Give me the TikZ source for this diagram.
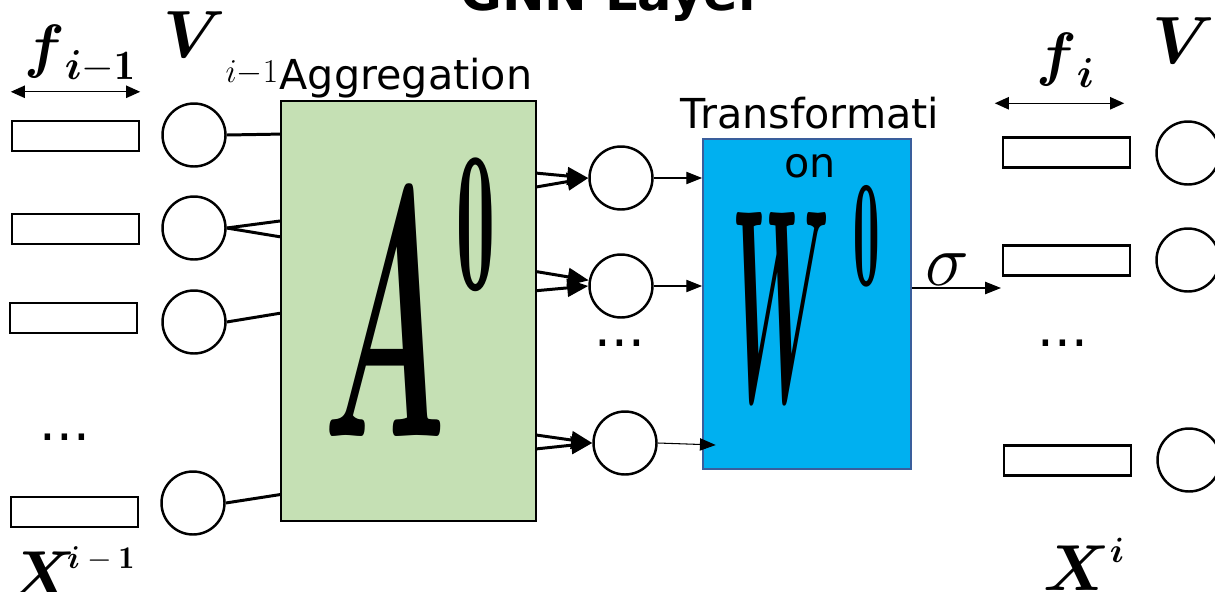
\RequirePackage{fix-cm}
\documentclass[tikz,border=0pt]{standalone}
\usepackage{amsmath}
\usepackage{fontspec}
\setsansfont{DejaVu Sans}
\usetikzlibrary{arrows.meta}
\definecolor{aggcolor}{HTML}{C5E0B4}
\definecolor{wcolor}{HTML}{00B0F0}
\definecolor{wborder}{HTML}{3A5E9C}
\newcommand{\lowsub}[2]{\raisebox{#1}{\fontsize{19}{19}\selectfont$#2$}}

\begin{document}
\begin{tikzpicture}[x=0.02cm, y=-0.02cm,
    >={Triangle[length=12pt,width=10pt]},
    vnode/.style={draw, circle, line width=1.4pt, minimum size=1.26cm, inner sep=0pt},
    feat/.style={draw, line width=1.4pt, minimum width=2.54cm, minimum height=0.6cm, inner sep=0pt},
    link/.style={line width=1.7pt},
    arr/.style={->, line width=1.7pt},
    tarr/.style={-{Triangle[length=9pt,width=7pt]}, line width=0.6pt},
    dim/.style={{Triangle[length=8pt,width=7pt]}-{Triangle[length=8pt,width=7pt]}, line width=0.8pt},
    lbl/.style={font=\sffamily\fontsize{23.5}{27.8}\selectfont, inner sep=0pt},
    dots/.style={font=\sffamily\fontsize{30}{30}\selectfont, anchor=base, inner sep=0pt},
    sym/.style={anchor=base west, inner sep=0pt},
]
  \useasboundingbox (0,0) rectangle (1215,592);

  % === Title ===
  \node[font=\sffamily\bfseries\fontsize{29}{34}\selectfont, anchor=base] (title) at (612,10) {GNN Layer};

  % === Layer i-1 (features and nodes) ===
  \node[feat] (xa1) at (75.5,136) {};
  \node[feat] (xa2) at (75.5,229) {};
  \node[feat] (xa3) at (73.5,318) {};
  \node[feat] (xa4) at (74.5,512) {};
  \node[vnode] (va1) at (194,135) {};
  \node[vnode] (va2) at (194,228) {};
  \node[vnode] (va3) at (194,322) {};
  \node[vnode] (va4) at (193,503) {};
  \node[dots] (dotsa) at (65,440) {...};
  \draw[dim] ([yshift=0.56cm]xa1.north west) -- ([yshift=0.56cm]xa1.north east);
  \node[sym, font=\fontsize{34}{34}\selectfont] (flabA) at (24,66) {$\boldsymbol{f}_{\boldsymbol{i}-\mathbf{1}}$};
  \node[sym, font=\fontsize{38}{38}\selectfont] (vlabA) at (163,57) {$\boldsymbol{V}_{\lowsub{-9pt}{i{-}1}}$};
  \node[sym, font=\fontsize{37}{37}\selectfont] (xlabA) at (9,596) {$\boldsymbol{X}^{\mbox{\hspace{-5pt}\fontsize{18}{18}\selectfont$\boldsymbol{i}-\mathbf{1}$}}$};

  % === Aggregation ===
  \node[draw, line width=1.2pt, fill=aggcolor, minimum width=5.1cm, minimum height=8.4cm] (agg) at (408.5,311) {};
  \node[lbl, anchor=base] (agglbl) at (406,89) {Aggregation};
  \node[inner sep=0pt] (Aletter) at (385,315) {\scalebox{1}[2.53]{\fontsize{80}{80}\selectfont$\boldsymbol{A}$}};
  \node[inner sep=0pt] (Asup) at (476,225) {\scalebox{1}[2.6]{\fontsize{44}{44}\selectfont$\mathbf{0}$}};

  % === hidden nodes ===
  \node[vnode] (h1) at (621,178) {};
  \node[vnode] (h2) at (621,286) {};
  \node[vnode] (h3) at (625,443) {};
  \node[dots] (dotsh) at (620,346) {...};

  % === Transformation ===
  \node[draw=wborder, line width=1pt, fill=wcolor, minimum width=4.16cm, minimum height=6.6cm] (wbox) at (807,304) {};
  \node[lbl, align=center, anchor=north] (wlbl) at (810,97) {Transformati\\on};
  \node[inner sep=0pt] (Wletter) at (781,307) {\scalebox{0.8}[2.8]{\fontsize{56}{56}\selectfont$\boldsymbol{W}$}};
  \node[inner sep=0pt] (Wsup) at (867,236) {\scalebox{1}[2.9]{\fontsize{30}{30}\selectfont$\mathbf{0}$}};

  % === Layer i ===
  \node[feat] (xb1) at (1066.5,152.5) {};
  \node[feat] (xb2) at (1066.5,260.5) {};
  \node[feat] (xb3) at (1067.5,460.5) {};
  \node[vnode] (vb1) at (1188,153) {};
  \node[vnode] (vb2) at (1188,260) {};
  \node[vnode] (vb3) at (1189,460) {};
  \node[dots] (dotsb) at (1063,346) {...};
  \draw[dim] ([shift={(-7,-33)}]xb1.north west) -- ([shift={(-7,-33)}]xb1.north east);
  \node[sym, font=\fontsize{34}{34}\selectfont] (flabB) at (1036,74) {$\boldsymbol{f}_{\boldsymbol{i}}$};
  \node[sym, font=\fontsize{38}{38}\selectfont] (vlabB) at (1152,63) {$\boldsymbol{V}_{\lowsub{-9pt}{i}}$};
  \node[sym, font=\fontsize{37}{37}\selectfont] (xlabB) at (1043,590) {$\boldsymbol{X}^{\mbox{\fontsize{20}{20}\selectfont$\boldsymbol{i}$}}$};
  \coordinate (sigout) at (1001,288);

  % === Connections ===
  \draw[link] (va1.east) -- (agg.126.7);
  \draw[link] (va2.east) -- (agg.145.1);
  \draw[link] (va2.east) -- (agg.150.9);
  \draw[link] (va3.east) -- (agg.181.3);
  \draw[link] (va4.east) -- (agg.235.1);
  \draw[arr] (agg.47.7) -- (h1.west);
  \draw[arr] (agg.44.4) -- (h1.west);
  \draw[arr] (agg.17.4) -- (h2.170);
  \draw[arr] (agg.9.4) -- (h2.west);
  \draw[arr] (agg.-44.7) -- (h3.west);
  \draw[arr] (agg.-47.9) -- (h3.west);
  \draw[tarr] (h1.east) -- (h1 -| wbox.west);
  \draw[tarr] (h2.east) -- (h2 -| wbox.west);
  \draw[tarr] (h3.east) -- ++(58,2);
  \draw[tarr] (sigout -| wbox.east) -- node[pos=0.4, above, inner sep=1pt, font=\fontsize{42}{42}\selectfont] (siglbl) {$\sigma$} (sigout);
\end{tikzpicture}
\end{document}
